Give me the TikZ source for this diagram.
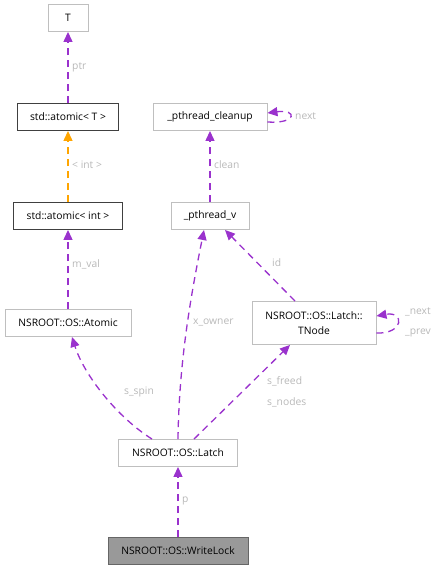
\documentclass[tikz,border=0pt]{standalone}
\usepackage{fontspec}
\setmainfont{Open Sans}
\usetikzlibrary{arrows.meta}
\definecolor{relcol}{HTML}{9A32CD}
\definecolor{tplcol}{HTML}{FFA500}
\definecolor{lblcol}{HTML}{B8B8B8}
\tikzset{
  cls/.style={draw=black!25, fill=white, line width=0.9pt, minimum height=27pt,
    inner sep=0pt, font=\fontsize{10.3}{15}\selectfont, align=center},
  stdcls/.style={cls, draw=black!75},
  curcls/.style={cls, draw=black!60, fill=black!40},
  rel/.style={draw=relcol, line width=1.3pt, dash pattern=on 7pt off 5pt,
    -{Triangle[length=10pt,width=9pt]}},
  tpl/.style={rel, draw=tplcol},
  lbl/.style={text=lblcol, anchor=west, inner sep=0pt, font=\fontsize{10.3}{12}\selectfont}
}
\begin{document}
\begin{tikzpicture}[x=1pt, y=-1pt]
      \useasboundingbox (0,0) rectangle (442,571);
      \node[cls, minimum width=40pt] (T) at (68,18) {T};
      \node[stdcls, minimum width=101pt] (atomT) at (68,117) {std::atomic< T >};
      \node[stdcls, minimum width=109pt] (atomint) at (68,216) {std::atomic< int >};
      \node[cls, minimum width=126pt] (atomic) at (68,323) {NSROOT::OS::Atomic};
      \node[cls, minimum width=114pt] (cleanup) at (210,117) {\_pthread\_cleanup};
      \node[cls, minimum width=78pt] (pv) at (210,216) {\_pthread\_v};
      \node[cls, minimum width=124pt, minimum height=43pt] (tnode) at (314,323)
        {NSROOT::OS::Latch::\\TNode};
      \node[cls, minimum width=119pt] (latch) at (178,453) {NSROOT::OS::Latch};
      \node[curcls, minimum width=140pt] (wlock) at (178,551) {NSROOT::OS::WriteLock};
      \begin{scope}[-]
        \draw[rel] (atomT) -- (T);
        \draw[tpl] (atomint) -- (atomT);
        \draw[rel] (atomic) -- (atomint);
        \draw[rel] (pv) -- (cleanup);
        \draw[rel] ([yshift=-5pt]cleanup.east) .. controls +(30,2) and +(30,-4) .. ([yshift=4pt]cleanup.east);
        \draw[rel] ([xshift=-19pt]tnode.north) -- ([xshift=15pt]pv.south);
        \draw[rel] ([yshift=-10pt]tnode.east) .. controls +(28,1) and +(28,-5) .. ([yshift=7pt]tnode.east);
        \draw[rel] ([xshift=-26pt]latch.north) .. controls +(-35,-22) and +(12,38) .. ([xshift=4pt]atomic.south);
        \draw[rel] (latch.north) .. controls +(1,-80) and +(-12,60) .. ([xshift=-6pt]pv.south);
        \draw[rel] ([xshift=16pt]latch.north) -- ([xshift=-24pt]tnode.south);
        \draw[rel] (wlock) -- (latch);
      \end{scope}
      \node[lbl] (lptr) at (72,67) {ptr};
      \node[lbl] (lint) at (72,165) {< int >};
      \node[lbl] (lmval) at (72,264) {m\_val};
      \node[lbl] (lclean) at (214,165) {clean};
      \node[lbl] (lnext) at (295,116) {next};
      \node[lbl] (lid) at (272,263) {id};
      \node[lbl] (lxowner) at (193,322) {x\_owner};
      \node[lbl] (ltnext) at (405,312) {\_next};
      \node[lbl] (ltprev) at (405,333) {\_prev};
      \node[lbl] (lspin) at (124,392) {s\_spin};
      \node[lbl] (lfreed) at (267,381) {s\_freed};
      \node[lbl] (lnodes) at (267,402) {s\_nodes};
      \node[lbl] (lp) at (182,501) {p};
    \end{tikzpicture}
\end{document}
